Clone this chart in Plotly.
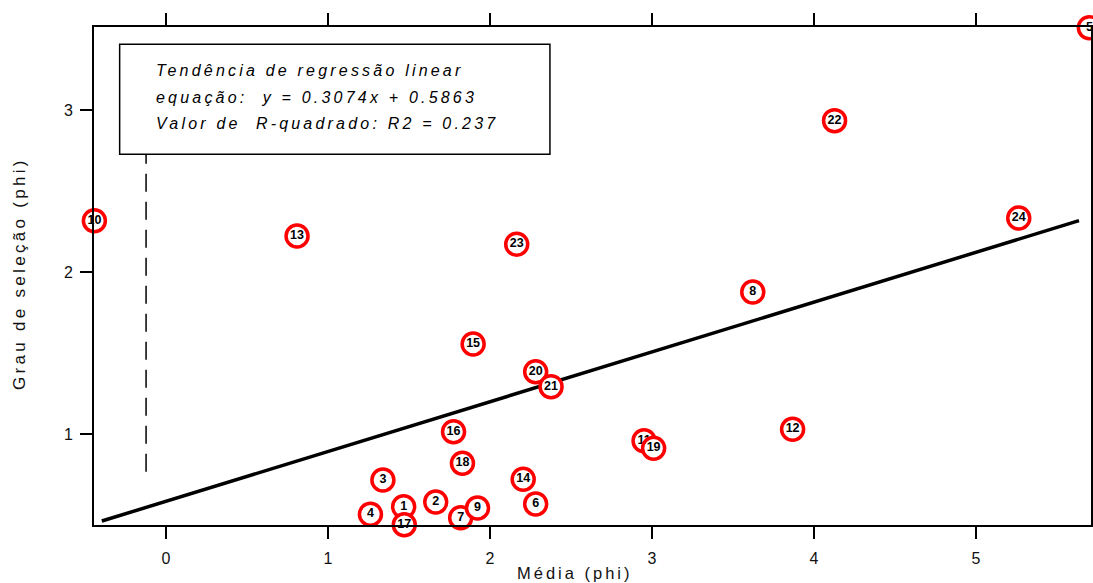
import plotly.graph_objects as go

# Sample numbers and their coordinates (phi units)
labels = ["1", "2", "3", "4", "5", "6", "7", "8", "9", "10", "11", "12",
          "13", "14", "15", "16", "17", "18", "19", "20", "21", "22", "23", "24"]
media_phi = [1.467, 1.665, 1.339, 1.262, 5.700, 2.282, 1.819, 3.622, 1.923, -0.442,
             2.951, 3.868, 0.809, 2.205, 1.896, 1.775, 1.471, 1.830, 3.010, 2.282,
             2.377, 4.127, 2.165, 5.264]
selecao_phi = [0.553, 0.582, 0.718, 0.506, 3.510, 0.570, 0.485, 1.878, 0.545, 2.318,
               0.960, 1.031, 2.224, 0.722, 1.557, 1.016, 0.442, 0.821, 0.914, 1.386,
               1.294, 2.936, 2.173, 2.335]

# Linear regression trend
slope = 0.3074
intercept = 0.5863
r2 = 0.237
fit_x = [-0.396, 5.636]
fit_y = [slope * v + intercept for v in fit_x]

# Vertical dashed reference
ref_x = [-0.123, -0.123]
ref_y = [0.769, 2.745]

x_ticks = [0, 1, 2, 3, 4, 5]
y_ticks = [1, 2, 3]
x_range = [-0.4444, 5.710]
y_range = [0.440, 3.514]

FONT = "Arial, Liberation Sans, sans-serif"


def spaced(text, px):
    return f'<span style="letter-spacing:{px}px">{text}</span>'


fig = go.Figure()

fig.add_trace(go.Scatter(
    x=ref_x, y=ref_y, mode="lines",
    line=dict(color="black", width=1.5, dash="18px,10px"),
    hoverinfo="skip", showlegend=False,
))

fig.add_trace(go.Scatter(
    x=fit_x, y=fit_y, mode="lines",
    line=dict(color="black", width=3.5),
    hoverinfo="skip", showlegend=False,
))

# One trace per sample so later numbers sit on top of earlier ones
for lab, xv, yv in zip(labels, media_phi, selecao_phi):
    fig.add_trace(go.Scatter(
        x=[xv], y=[yv], mode="markers+text", text=[lab],
        textposition="middle center",
        textfont=dict(family=FONT, size=12.5, color="black", weight="bold"),
        marker=dict(size=22, color="white", line=dict(color="#ff0000", width=3.5)),
        cliponaxis=False, hoverinfo="skip", showlegend=False,
    ))

axis_common = dict(
    showline=True, linecolor="black", linewidth=2,
    mirror="ticks", ticks="outside", ticklen=12, tickwidth=1.5, tickcolor="black",
    showgrid=False, zeroline=False, automargin=False,
    tickfont=dict(family=FONT, size=16, color="#111"),
)

fig.update_layout(
    width=1093, height=583,
    margin=dict(l=94, r=2, t=27, b=58),
    paper_bgcolor="white", plot_bgcolor="white",
    xaxis=dict(range=x_range, tickvals=x_ticks, ticklabelstandoff=6, **axis_common),
    yaxis=dict(range=y_range, tickvals=y_ticks, ticklabelstandoff=4, **axis_common),
    shapes=[dict(
        type="rect", xref="x", yref="y",
        x0=-0.286, x1=2.370, y0=2.728, y1=3.407,
        line=dict(color="black", width=1.5), fillcolor="white", layer="above",
    )],
)

box_lines = [
    "Tendência de regressão linear",
    f"equação:\u00a0\u00a0y = {slope}x + {intercept}",
    f"Valor de\u00a0\u00a0R-quadrado: R2 = {r2}",
]
box_y = [3.243, 3.078, 2.917]
for txt, yv in zip(box_lines, box_y):
    fig.add_annotation(
        x=-0.0765, y=yv, xref="x", yref="y", xanchor="left", yanchor="middle",
        text="<i>" + spaced(txt, 3.2) + "</i>", showarrow=False,
        font=dict(family=FONT, size=16, color="black"),
    )

fig.add_annotation(
    x=(19 - 94) / 997, y=(525 - 274) / 498, xref="paper", yref="paper",
    xanchor="center", yanchor="middle", textangle=-90,
    text=spaced("Grau de seleção (phi)", 3.3), showarrow=False,
    font=dict(family=FONT, size=17, color="#111"),
)
fig.add_annotation(
    x=(575 - 94) / 997, y=-(573 - 525) / 498, xref="paper", yref="paper",
    xanchor="center", yanchor="middle",
    text=spaced("Média (phi)", 3), showarrow=False,
    font=dict(family=FONT, size=16.5, color="#111"),
)

fig.write_html("out.html")
